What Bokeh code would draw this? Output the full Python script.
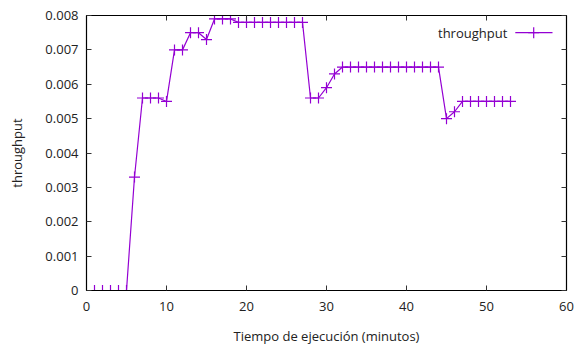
from bokeh.plotting import figure
from bokeh.models import (Range1d, LinearAxis, FixedTicker, CustomJSTickFormatter,
                          Label, ColumnDataSource)
from bokeh.embed import file_html
from bokeh.resources import INLINE

minutes = list(range(1, 54))
throughput = ([0.0] * 5 + [0.0033] + [0.0056] * 3 + [0.0055] + [0.0070] * 2 +
              [0.0075] * 2 + [0.0073] + [0.0079] * 3 + [0.0078] * 9 +
              [0.0056] * 2 + [0.0059, 0.0063] + [0.0065] * 13 +
              [0.0050, 0.0052] + [0.0055] * 7)
x_ticks = [0, 10, 20, 30, 40, 50, 60]
y_ticks = [0, 0.001, 0.002, 0.003, 0.004, 0.005, 0.006, 0.007, 0.008]
series_label = "throughput"
x_label = "Tiempo de ejecución (minutos)"
y_label = "throughput"

COLOR = "#9400D3"
FONT = "Open Sans"
FS = "13px"

p = figure(width=586, height=349, output_backend="svg", toolbar_location=None,
           x_range=Range1d(0, 60), y_range=Range1d(0, 0.008),
           min_border_left=86, min_border_right=20, min_border_top=15,
           min_border_bottom=59, x_axis_location=None, y_axis_location=None)
p.background_fill_color = "white"
p.border_fill_color = "white"
p.outline_line_color = "black"
p.outline_line_width = 1.2
p.grid.visible = False

fmt = CustomJSTickFormatter(code="return Number(tick.toFixed(3)).toString();")
blank = CustomJSTickFormatter(code="return '';")

def style(ax, labels=True):
    ax.major_tick_in = 5
    ax.major_tick_out = 0
    ax.minor_tick_line_color = None
    ax.axis_line_color = "black"
    ax.major_tick_line_color = "#333333"
    ax.major_label_text_font = FONT
    ax.major_label_text_color = "#222222"
    ax.major_label_text_font_size = FS
    ax.axis_label_text_font = FONT
    ax.axis_label_text_font_style = "normal"
    ax.axis_label_text_font_size = FS
    ax.axis_label_text_color = "#222222"
    if not labels:
        ax.formatter = blank
        ax.major_label_standoff = 0

xb = LinearAxis(ticker=FixedTicker(ticks=x_ticks), axis_label=x_label)
style(xb)
xb.major_label_standoff = 11
xb.axis_label_standoff = 13
p.add_layout(xb, "below")

yl = LinearAxis(ticker=FixedTicker(ticks=y_ticks), formatter=fmt, axis_label=y_label)
style(yl)
yl.major_label_standoff = 8
yl.axis_label_standoff = 16
p.add_layout(yl, "left")

xt = LinearAxis(ticker=FixedTicker(ticks=x_ticks))
style(xt, labels=False)
p.add_layout(xt, "above")

yr = LinearAxis(ticker=FixedTicker(ticks=y_ticks))
style(yr, labels=False)
p.add_layout(yr, "right")

src = ColumnDataSource(dict(x=minutes, y=throughput))
p.line("x", "y", source=src, line_color=COLOR, line_width=1.2)
p.scatter("x", "y", source=src, marker="cross", size=11, line_color=COLOR,
          line_width=1.2)

# gnuplot-style legend: text then sample on the right
leg_y = 0.0075
p.line([53.6, 58.25], [leg_y, leg_y], line_color=COLOR, line_width=1.2)
p.scatter([55.9], [leg_y], marker="cross", size=11, line_color=COLOR, line_width=1.2)
p.add_layout(Label(x=52.6, y=leg_y, text=series_label, text_align="right",
                   text_baseline="middle", text_font=FONT, text_font_size=FS,
                   text_color="#222222"))

open("out.html", "w").write(file_html(p, INLINE))
